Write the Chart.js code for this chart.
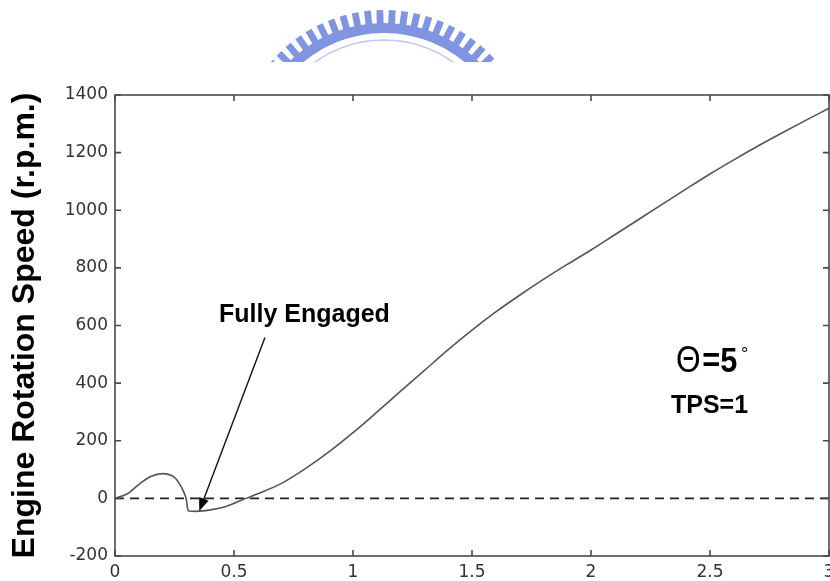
<!DOCTYPE html>
<html>
<head>
<meta charset="utf-8">
<script src="https://cdn.jsdelivr.net/npm/chart.js@4.4.1/dist/chart.umd.min.js"></script>
<style>
  body { margin: 0; background: #fff; }
  canvas { display: block; }
</style>
</head>
<body>
<canvas id="speedChart" width="830" height="581"></canvas>
<script>
// time (s) and engine speed (r.p.m.)
var timeSec = [0, 0.05, 0.1, 0.15, 0.2, 0.25, 0.27, 0.29, 0.3, 0.305, 0.31, 0.34, 0.4, 0.47, 0.55,
    0.6, 0.7, 0.8, 0.9, 1.0, 1.1, 1.2, 1.3, 1.4, 1.5, 1.6, 1.7, 1.8, 1.9, 2.0,
    2.1, 2.2, 2.3, 2.4, 2.5, 2.6, 2.7, 2.8, 2.9, 3.0];
var engineRpm = [0, 15, 48, 76, 86, 73, 52, 20, -5, -35, -44, -45, -40, -27, 0,
    16, 52, 103, 162, 228, 299, 372, 444, 516, 584, 647, 705, 760, 812, 862,
    915, 968, 1021, 1074, 1126, 1175, 1222, 1267, 1311, 1354];

// dashed zero reference
var refTime = [0, 3];
var refRpm = [0, 0];

var xMin = 0, xMax = 3, xStep = 0.5;
var yMin = -200, yMax = 1400, yStep = 200;
var yTitle = 'Engine Rotation Speed (r.p.m.)';

// annotations, anchored in data units
var noteText = 'Fully Engaged';
var notePos = [0.437, 611];
var arrowFrom = [0.63, 558];
var arrowTo = [0.354, -44];
var thetaPos = [2.357, 438];
var tpsText = 'TPS=1';
var tpsPos = [2.336, 298];

function toPoints(xs, ys) {
    var pts = [];
    for (var i = 0; i < xs.length; i++) {
        pts.push({x: xs[i], y: ys[i]});
    }
    return pts;
}

function drawLogo(ctx) {
    var cx = 384, cy = 159;
    var blue = 'rgb(128,148,226)';
    ctx.save();
    ctx.beginPath();
    ctx.rect(0, 0, 830, 62);
    ctx.clip();
    ctx.fillStyle = blue;
    ctx.beginPath();
    ctx.arc(cx, cy, 136, Math.PI, 2 * Math.PI);
    ctx.arc(cx, cy, 126, 2 * Math.PI, Math.PI, true);
    ctx.fill();
    for (var a = 182; a < 360; a += 4.8) {
        ctx.save();
        ctx.translate(cx, cy);
        ctx.rotate(a * Math.PI / 180);
        ctx.fillRect(134, -3.4, 15, 6.8);
        ctx.restore();
    }
    ctx.strokeStyle = 'rgba(128,148,226,0.5)';
    ctx.lineWidth = 1.5;
    ctx.beginPath();
    ctx.arc(cx, cy, 119, Math.PI, 2 * Math.PI);
    ctx.stroke();
    ctx.restore();
}

var backdrop = {
    id: 'backdrop',
    beforeDraw: function(chart) {
        var ctx = chart.ctx;
        ctx.save();
        ctx.fillStyle = '#fff';
        ctx.fillRect(0, 0, chart.width, chart.height);
        ctx.restore();
        drawLogo(ctx);
    }
};

// matlab style box with inward ticks on all four sides
var boxTicks = {
    id: 'boxTicks',
    afterDatasetsDraw: function(chart) {
        var ctx = chart.ctx, area = chart.chartArea;
        var xs = chart.scales.x, ys = chart.scales.y;
        var len = 6;
        ctx.save();
        ctx.strokeStyle = '#4a4a4a';
        ctx.lineWidth = 1.6;
        ctx.strokeRect(area.left, area.top, area.right - area.left, area.bottom - area.top);
        ctx.beginPath();
        for (var t of xs.ticks) {
            var px = xs.getPixelForValue(t.value);
            ctx.moveTo(px, area.bottom); ctx.lineTo(px, area.bottom - len);
            ctx.moveTo(px, area.top); ctx.lineTo(px, area.top + len);
        }
        for (var t of ys.ticks) {
            var py = ys.getPixelForValue(t.value);
            ctx.moveTo(area.left, py); ctx.lineTo(area.left + len, py);
            ctx.moveTo(area.right, py); ctx.lineTo(area.right - len, py);
        }
        ctx.stroke();
        ctx.restore();
    }
};

var notes = {
    id: 'notes',
    afterDraw: function(chart) {
        var ctx = chart.ctx;
        var xs = chart.scales.x, ys = chart.scales.y;
        function px(p) { return [xs.getPixelForValue(p[0]), ys.getPixelForValue(p[1])]; }
        ctx.save();
        ctx.fillStyle = '#000';
        ctx.textAlign = 'left';
        ctx.textBaseline = 'alphabetic';

        var n = px(notePos);
        ctx.font = 'bold 25px "Liberation Sans", Arial, sans-serif';
        ctx.fillText(noteText, n[0], n[1]);

        // arrow
        var a = px(arrowFrom), b = px(arrowTo);
        var ang = Math.atan2(b[1] - a[1], b[0] - a[0]);
        ctx.strokeStyle = '#111';
        ctx.lineWidth = 1.4;
        ctx.beginPath();
        ctx.moveTo(a[0], a[1]);
        ctx.lineTo(b[0] - 10 * Math.cos(ang), b[1] - 10 * Math.sin(ang));
        ctx.stroke();
        ctx.beginPath();
        ctx.moveTo(b[0], b[1]);
        ctx.lineTo(b[0] - 13 * Math.cos(ang) + 5 * Math.sin(ang), b[1] - 13 * Math.sin(ang) - 5 * Math.cos(ang));
        ctx.lineTo(b[0] - 13 * Math.cos(ang) - 5 * Math.sin(ang), b[1] - 13 * Math.sin(ang) + 5 * Math.cos(ang));
        ctx.closePath();
        ctx.fill();

        // theta = 5 deg
        var th = px(thetaPos);
        ctx.save();
        ctx.translate(th[0], th[1]);
        ctx.scale(0.88, 1);
        ctx.font = '36px "Liberation Sans", Arial, sans-serif';
        ctx.fillText('\u0398', 0, 0);
        ctx.font = 'bold 35px "Liberation Sans", Arial, sans-serif';
        ctx.fillText('=5', 30, 0);
        ctx.restore();
        ctx.font = '18px "Liberation Sans", Arial, sans-serif';
        ctx.fillText('\u00b0', th[0] + 65, th[1] - 12);

        var tp = px(tpsPos);
        ctx.font = 'bold 25px "Liberation Sans", Arial, sans-serif';
        ctx.fillText(tpsText, tp[0], tp[1]);
        ctx.restore();
    }
};

var tickFont = {family: '"DejaVu Sans", sans-serif', size: 17};
function plainLabel(value) { return String(value); }

new Chart(document.getElementById('speedChart'), {
    type: 'line',
    data: {
        datasets: [
            {
                label: 'engine speed',
                data: toPoints(timeSec, engineRpm),
                borderColor: 'rgb(85,85,85)',
                borderWidth: 1.6,
                pointRadius: 0,
                cubicInterpolationMode: 'monotone',
                fill: false
            },
            {
                label: 'zero',
                data: toPoints(refTime, refRpm),
                borderColor: '#222',
                borderWidth: 1.8,
                borderDash: [9, 6],
                pointRadius: 0,
                fill: false
            }
        ]
    },
    options: {
        responsive: false,
        animation: false,
        layout: {padding: {top: 95, right: 1, bottom: 0, left: 0}},
        plugins: {
            legend: {display: false},
            tooltip: {enabled: false}
        },
        scales: {
            x: {
                type: 'linear',
                min: xMin,
                max: xMax,
                ticks: {stepSize: xStep, font: tickFont, color: '#333', padding: 6, maxRotation: 0, callback: plainLabel},
                grid: {display: false, drawTicks: false},
                border: {display: false},
                afterFit: function(s) { s.height = 25; s.paddingLeft = 0; s.paddingRight = 0; }
            },
            y: {
                type: 'linear',
                min: yMin,
                max: yMax,
                ticks: {stepSize: yStep, font: tickFont, color: '#333', padding: 7, callback: plainLabel},
                grid: {display: false, drawTicks: false},
                border: {display: false},
                title: {
                    display: true,
                    text: yTitle,
                    color: '#000',
                    font: {family: '"Liberation Sans", Arial, sans-serif', weight: 'bold', size: 32},
                    padding: {top: 6, bottom: 0}
                },
                afterFit: function(s) { s.width = 115; s.paddingTop = 0; s.paddingBottom = 0; }
            }
        }
    },
    plugins: [backdrop, boxTicks, notes]
});
</script>
</body>
</html>
